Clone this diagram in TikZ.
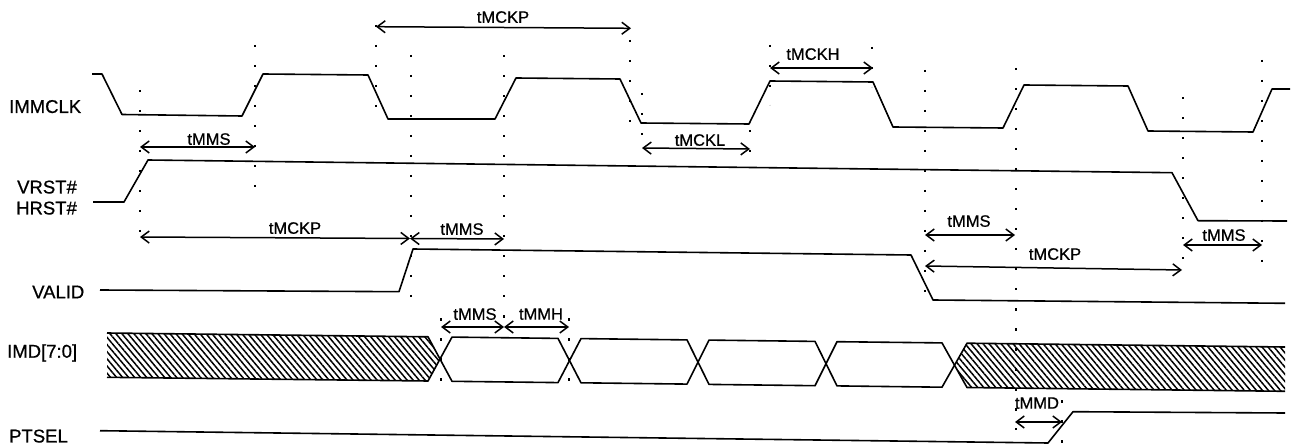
\documentclass[tikz,border=0pt]{standalone}
\usepackage{fontspec}
\setmainfont{Liberation Sans}
\newfontfamily\labfont{Liberation Sans}[FakeBold=0.7]
\usetikzlibrary{arrows.meta,patterns.meta}
\begin{document}
\begin{tikzpicture}[x=1pt,y=-1pt,
  wave/.style={line width=1.6pt, line join=round},
  guide/.style={line width=1.3pt, dash pattern=on 2.5pt off 17.5pt},
  dimline/.style={line width=1.5pt, {Straight Barb[length=8pt,width=12pt]}-{Straight Barb[length=8pt,width=12pt]}},
  sig/.style={anchor=west, font=\labfont\fontsize{18.5}{20}\selectfont, inner sep=0pt, text depth=0pt},
  tlab/.style={font=\labfont\fontsize{16.5}{18}\selectfont, inner sep=0pt, text depth=0pt},
  hatch/.style={pattern={Lines[angle=-50,distance=4.6pt,line width=1.5pt]}},
]
\useasboundingbox (0,0) rectangle (1298,446);

% ---- dotted guide lines ----
\foreach \x/\a/\b in {140/90/245, 255/45/190, 376/25/120, 411/55/298, 504/55/330,
  630/40/123, 642/93/150, 750/130/153, 770/45/105, 872/47/87, 925/70/307,
  1016/68/430, 1183/97/275, 1262/60/278, 441/318/382, 569/318/384, 1062/400/446}
  \draw[guide] (\x,\a) -- (\x,\b);

% ---- signal names ----
\node[sig] (nclk)   at (9,106.5) {IMMCLK};
\node[sig] (nvrst)  at (17,187)  {VRST\#};
\node[sig] (nhrst)  at (16,208)  {HRST\#};
\node[sig] (nvalid) at (32,292)  {VALID};
\node[sig] (nimd)   at (7,351)   {IMD[7:0]};
\node[sig] (nptsel) at (9,436)   {PTSEL};

% ---- IMMCLK ----
\draw[wave] (92,74) -- (102,74) -- (122,114.5) -- (242,116) -- (263,74) -- (368,75) -- (388,119)
  -- (495,119) -- (516,78) -- (620,79) -- (641,123) -- (749,124) -- (770,81)
  -- (873,82) -- (893,127) -- (1003,128) -- (1024,85) -- (1128,86) -- (1148,131)
  -- (1253,132) -- (1272,89) -- (1290,89);

% ---- VRST# / HRST# ----
\draw[wave] (93,202) -- (124,202) -- (148,160) -- (1172,172.7) -- (1198,220.7) -- (1287,221);

% ---- VALID ----
\draw[wave] (100,290) -- (399,291.7) -- (413,249) -- (911,255) -- (933,300) -- (1285,303.3);

% ---- IMD[7:0] ----
\fill[hatch] (107,333) -- (428,336.8) -- (440,359) -- (428,381) -- (107,377.3) -- cycle;
\fill[hatch] (1285,347) -- (967,343.2) -- (955,365.2) -- (967,387.5) -- (1285,391.3) -- cycle;
\draw[wave] (107,333) -- (428,336.8) -- (452,381.3) -- (558,382.6) -- (581,338.6)
  -- (687,339.9) -- (709,384.4) -- (815,385.7) -- (837,341.7) -- (942,342.9) -- (967,387.5) -- (1285,391.3);
\draw[wave] (107,377.3) -- (428,381) -- (452,337.1) -- (558,338.4) -- (581,382.8)
  -- (687,384.1) -- (709,340.1) -- (815,341.4) -- (837,385.9) -- (942,387.2) -- (967,343.2) -- (1285,347);

% ---- PTSEL ----
\draw[wave] (100,430.7) -- (1048,443) -- (1073,411.7) -- (1285,413);

% ---- timing dimensions ----
\draw[dimline] (376,26.7) -- (631,28.3);
\node[tlab] (l1) at (503,17) {tMCKP};
\draw[dimline] (770,68) -- (873,68);
\node[tlab] (l2) at (813,54) {tMCKH};
\draw[dimline] (140,147) -- (255,147);
\node[tlab] (l3) at (209,139) {tMMS};
\draw[dimline] (642,148) -- (750,149);
\node[tlab] (l4) at (700,140) {tMCKL};
\draw[dimline] (140,237) -- (410,238.5);
\node[tlab] (l5) at (295,228) {tMCKP};
\draw[dimline] (410,238.5) -- (504,239);
\node[tlab] (l6) at (462,229) {tMMS};
\draw[dimline] (925,235) -- (1015,235);
\node[tlab] (l7) at (969,221) {tMMS};
\draw[dimline] (925,266) -- (1182,270);
\node[tlab] (l8) at (1055,254) {tMCKP};
\draw[dimline] (1183,245) -- (1262,245);
\node[tlab] (l9) at (1224,235) {tMMS};
\draw[dimline] (441,327) -- (504,327);
\node[tlab] (l10) at (475,314) {tMMS};
\draw[dimline] (504,327) -- (569,327);
\node[tlab] (l11) at (541,314) {tMMH};
\draw[dimline] (1015,422) -- (1062,422);
\node[tlab] (l12) at (1037,403) {tMMD};
\end{tikzpicture}
\end{document}
